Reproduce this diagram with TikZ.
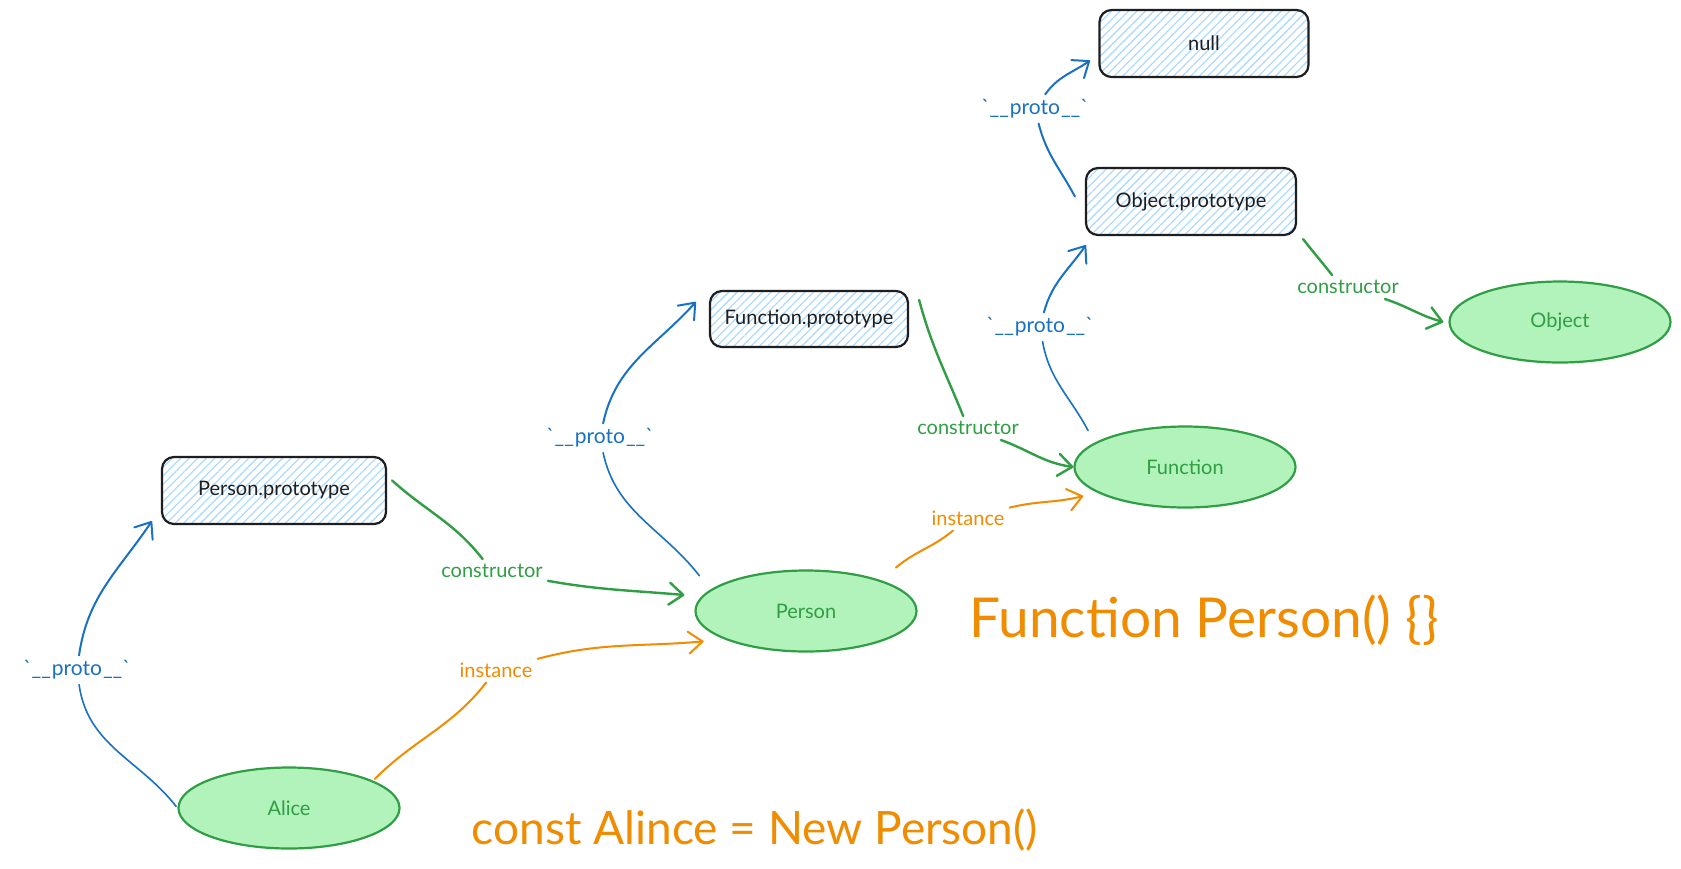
\documentclass[tikz,border=0pt]{standalone}
\usepackage{fontspec}
\setmainfont{Lato}
\usetikzlibrary{arrows.meta,shapes.geometric,patterns.meta}
\definecolor{ink}{HTML}{1E1E1E}
\definecolor{gstroke}{HTML}{2F9E44}
\definecolor{gfill}{HTML}{B2F2BB}
\definecolor{bstroke}{HTML}{1971C2}
\definecolor{ostroke}{HTML}{F08C00}
\definecolor{hatch}{HTML}{A5D8FF}
\newcommand{\prototxt}{\textasciigrave\_\_\kern1pt proto\kern1pt\_\_\textasciigrave}
\begin{document}
\begin{tikzpicture}[x=1pt,y=1pt,
  protobox/.style={draw=ink, line width=2.2pt, rounded corners=12pt,
    pattern={Lines[angle=45,distance=6pt,line width=1.1pt]}, pattern color=hatch,
    font=\fontsize{20}{24}\selectfont, text=ink, inner sep=0pt},
  fnnode/.style={ellipse, draw=gstroke, fill=gfill, line width=2.2pt,
    font=\fontsize{20}{24}\selectfont, text=gstroke,
    minimum width=221pt, minimum height=81pt, inner sep=0pt},
  lbl/.style={font=\fontsize{20}{24}\selectfont, inner sep=5pt},
  protolbl/.style={lbl, text=bstroke, font=\fontsize{21}{24}\selectfont},
  ctorlbl/.style={lbl, text=gstroke},
  instlbl/.style={lbl, text=ostroke},
  protoline/.style={draw=bstroke, line width=2pt, line cap=round},
  ctorline/.style={draw=gstroke, line width=2.4pt, line cap=round},
  instline/.style={draw=ostroke, line width=2pt, line cap=round},
  tip/.style={-{Straight Barb[length=14pt,width=22pt,round]}},
  bigtext/.style={text=ostroke, inner sep=0pt}
]
\path[fill=white, use as bounding box] (0,0) rectangle (1681,-868);

% boxes
\node[protobox, minimum width=209pt, minimum height=67pt] (null) at (1204,-43.5) {null};
\node[protobox, minimum width=210pt, minimum height=67pt] (op) at (1191,-201.5) {Object.prototype};
\node[protobox, minimum width=198pt, minimum height=56pt] (fp) at (809,-319) {Function.prototype};
\node[protobox, minimum width=224pt, minimum height=67pt] (pp) at (274,-490.5) {Person.prototype};

% ellipses
\node[fnnode] (func) at (1185,-467) {Function};
\node[fnnode] (obj) at (1560,-322) {Object};
\node[fnnode] (person) at (806,-611) {Person};
\node[fnnode] (alice) at (289,-808) {Alice};

% labels
\node[protolbl] (l1) at (77,-670) {\prototxt};
\node[ctorlbl] (l2) at (492,-571) {constructor};
\node[instlbl] (l3) at (496,-670) {instance};
\node[protolbl] (l4) at (600,-438) {\prototxt};
\node[ctorlbl] (l5) at (968,-428) {constructor};
\node[instlbl] (l6) at (968,-518) {instance};
\node[protolbl] (l7) at (1040,-327) {\prototxt};
\node[protolbl] (l8) at (1035,-109) {\prototxt};
\node[ctorlbl] (l9) at (1348,-287) {constructor};

% code texts
\node[bigtext, font=\fontsize{55}{60}\selectfont] (code1) at (1204,-620) {Function Person() \{\}};
\node[bigtext, font=\fontsize{46}{52}\selectfont] (code2) at (755,-830) {const Alince = New Person()};

% E1 Alice -> Person.prototype
\draw[protoline, line width=1.6pt, shorten <=2pt] (alice.west) to[out=128,in=-82] (l1);
\draw[protoline, tip] (l1) to[out=82,in=236] ([xshift=-9pt,yshift=4pt]pp.south west);
% E2 Person.prototype -> Person
\draw[ctorline] ([xshift=5pt,yshift=10pt]pp.east) to[out=-42,in=128] (l2);
\draw[ctorline, tip] (l2) to[out=-10,in=175] ([xshift=-10pt,yshift=16pt]person.west);
% E3 Alice -> Person
\draw[instline] ([xshift=6pt]alice.20) to[out=45,in=232] (l3);
\draw[instline, tip] (l3) to[out=15,in=185] ([xshift=-14pt,yshift=-5pt]person.196);
% E4 Person -> Function.prototype
\draw[protoline, line width=1.6pt] ([xshift=-16pt,yshift=11pt]person.165) to[out=128,in=-78] (l4);
\draw[protoline, tip] (l4) to[out=78,in=228] ([xshift=-13pt,yshift=-12pt]fp.north west);
% E5 Function.prototype -> Function
\draw[ctorline] ([xshift=10pt,yshift=-10pt]fp.north east) to[out=-75,in=112] (l5);
\draw[ctorline, tip] (l5) to[out=-20,in=172] (func.west);
% E6 Person -> Function
\draw[instline] ([xshift=11pt,yshift=14pt]person.north east) to[out=40,in=220] (l6);
\draw[instline, tip] (l6) to[out=14,in=194] ([xshift=-22pt]func.200);
% E7 Function -> Object.prototype
\draw[protoline, line width=1.6pt] ([xshift=-18pt,yshift=7pt]func.north west) to[out=118,in=-80] (l7);
\draw[protoline, tip] (l7) to[out=75,in=235] ([xshift=1pt,yshift=-9pt]op.south west);
% E8 Object.prototype -> null
\draw[protoline] ([xshift=-10pt,yshift=5pt]op.west) to[out=118,in=-76] (l8);
\draw[protoline, tip] (l8) to[out=55,in=215] ([xshift=-9pt,yshift=-17pt]null.west);
% E9 Object.prototype -> Object
\draw[ctorline] ([xshift=6pt,yshift=-3pt]op.south east) to[out=-52,in=128] ([xshift=-16pt]l9.north);
\draw[ctorline, tip] (l9) to[out=-18,in=165] ([xshift=-5pt]obj.west);
\end{tikzpicture}
\end{document}
